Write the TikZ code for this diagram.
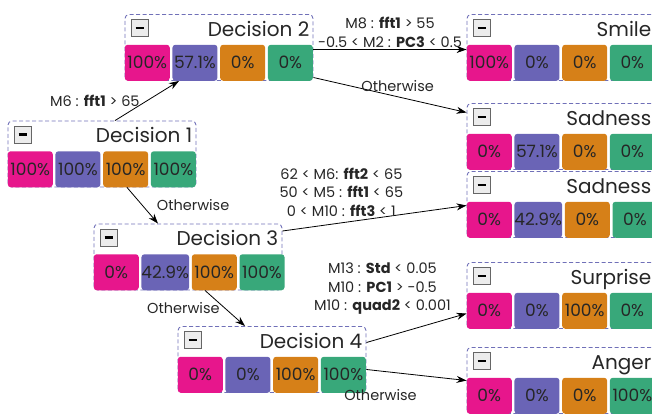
\documentclass[tikz,border=0pt]{standalone}
\usepackage{fontspec}
\setmainfont{Poppins}
\usetikzlibrary{positioning,arrows.meta}

\definecolor{cellpink}{RGB}{231,22,140}
\definecolor{cellpurple}{RGB}{106,100,182}
\definecolor{cellorange}{RGB}{214,128,24}
\definecolor{cellgreen}{RGB}{56,168,122}
\definecolor{panelline}{RGB}{112,112,184}

% one panel: name, centre, title, then the four shares
\newcommand{\resultpanel}[7]{
	\node[panel] (#1) at #2 {};
	\node[paneltitle] at ([xshift=-4pt,yshift=-22pt]#1.north east) {#3};
	\node[button] at ([xshift=15pt,yshift=-14pt]#1.north west) {\rule{8pt}{2.6pt}};
	\node[cell,fill=cellpink,anchor=south west] (#1-1) at (#1.south west) {#4};
	\node[cell,fill=cellpurple,right=2.3pt of #1-1] (#1-2) {#5};
	\node[cell,fill=cellorange,right=2.3pt of #1-2] (#1-3) {#6};
	\node[cell,fill=cellgreen,right=2.3pt of #1-3] (#1-4) {#7};
}

\begin{document}
\begin{tikzpicture}[
			x=1pt,y=-1pt,
			panel/.style={
				draw=panelline,
				dash pattern=on 4pt off 2.5pt,
				line width=0.9pt,
				rounded corners=4pt,
				minimum width=188pt,
				minimum height=66pt,
				inner sep=0pt
			},
			paneltitle/.style={
				anchor=base east,
				inner sep=0pt,
				font=\fontsize{20}{22}\selectfont,
				text=black!85
			},
			button/.style={
				draw=gray!80!black,
				fill=gray!15,
				minimum size=17pt,
				inner sep=0pt
			},
			cell/.style={
				rounded corners=3pt,
				minimum width=45pt,
				minimum height=36pt,
				inner sep=0pt,
				font=\fontsize{17}{19}\selectfont,
				text=black!85
			},
			cond/.style={
				font=\fontsize{14.5}{18.5}\selectfont,
				align=center,
				inner sep=1pt,
				text=black!85
			},
			flow/.style={
				->,
				line width=0.8pt
			},
			>={Stealth[length=10pt,width=7pt]}
			]
			
			\clip (0,0) rectangle (652,415);
			
			\resultpanel{d1}{(102,154)}{Decision 1}{100\%}{100\%}{100\%}{100\%}
			\resultpanel{d2}{(219,47.5)}{Decision 2}{100\%}{57.1\%}{0\%}{0\%}
			\resultpanel{d3}{(188,257)}{Decision 3}{0\%}{42.9\%}{100\%}{100\%}
			\resultpanel{d4}{(272,359.5)}{Decision 4}{0\%}{0\%}{100\%}{100\%}
			
			\resultpanel{smile}{(561,47.5)}{Smile}{100\%}{0\%}{0\%}{0\%}
			\resultpanel{sad1}{(561,136.5)}{Sadness}{0\%}{57.1\%}{0\%}{0\%}
			\resultpanel{sad2}{(561,204.5)}{Sadness}{0\%}{42.9\%}{0\%}{0\%}
			\resultpanel{surp}{(561,295.5)}{Surprise}{0\%}{0\%}{100\%}{0\%}
			\resultpanel{anger}{(561,380.5)}{Anger}{0\%}{0\%}{0\%}{100\%}
			
			% splits
			\draw[flow] ([xshift=13pt]d1.north) -- ([xshift=-40pt]d2.south)
				node[cond,midway,left=6pt] {M6 : \textbf{fft1} > 65};
			\draw[flow] (d1.south) ++(25,0) coordinate (d1out) (d1out) -- ([xshift=-30pt]d3.north)
				node[cond,midway,right=13pt] {Otherwise};
			
			\draw[flow] ([yshift=-2pt]d2.east) -- ([yshift=-2pt]smile.west)
				node[cond,midway,above=1pt] {M8 : \textbf{fft1} > 55\\-0.5 < M2 : \textbf{PC3} < 0.5};
			\draw[flow] ([yshift=-30pt]d2.east) -- ([yshift=24pt]sad1.west)
				node[cond,pos=0.55,above=4pt] {Otherwise};
			
			\draw[flow] ([yshift=26pt]d3.east) -- ([yshift=-1pt]sad2.west)
				node[cond,pos=0.32,above=5pt] {62 < M6: \textbf{fft2} < 65\\50 < M5 : \textbf{fft1} < 65\\0 < M10 : \textbf{fft3} < 1};
			\draw[flow] ([xshift=17pt]d3.south) -- ([xshift=-27pt]d4.north)
				node[cond,midway,left=4pt] {Otherwise};
			
			\draw[flow] ([yshift=17pt]d4.east) -- ([yshift=-18pt]surp.west)
				node[cond,pos=0.16,above=22pt] {M13 : \textbf{Std} < 0.05\\M10 : \textbf{PC1} > -0.5\\M10 : \textbf{quad2} < 0.001};
			\draw[flow] ([yshift=-10pt]d4.east) -- (anger.west)
				node[cond,midway,below=13pt,xshift=-36pt] {Otherwise};
			
		\end{tikzpicture}
\end{document}
